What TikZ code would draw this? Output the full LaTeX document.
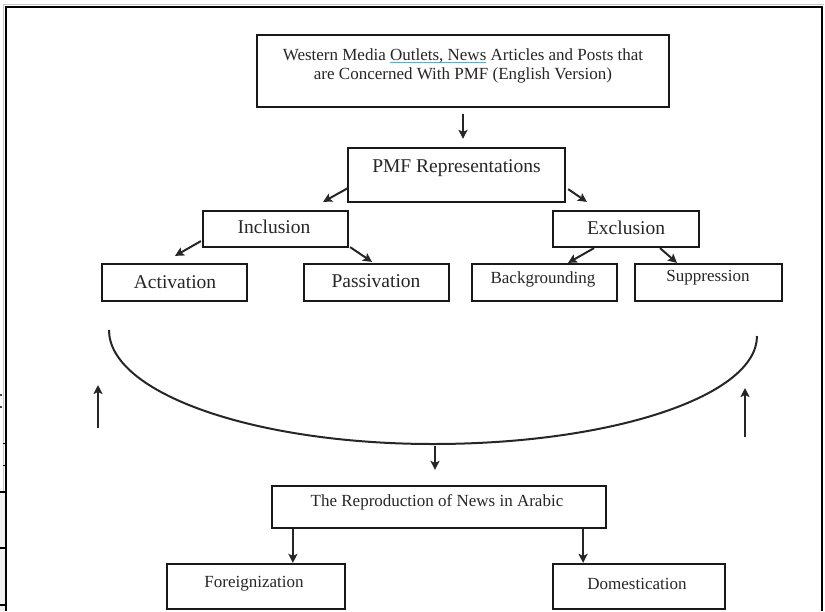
\documentclass[tikz,border=0pt]{standalone}
\usepackage{fontspec}
\setmainfont{Liberation Serif}
\usetikzlibrary{arrows.meta,calc}
\newsavebox\myulbox
\newcommand\spellul[1]{\sbox\myulbox{#1}\rlap{\textcolor{blue!35!cyan!80!white}{\rule[-3pt]{\wd\myulbox}{0.8pt}}}\usebox\myulbox}
\begin{document}
\begin{tikzpicture}[x=1pt,y=-1pt,
  box/.style={draw=black!90, line width=2.2pt, rectangle, inner sep=0pt},
  lbl/.style={inner sep=0pt, font=\fontsize{17}{19}\selectfont, align=center, text=black!85},
  big/.style={font=\fontsize{19.5}{22}\selectfont},
  arr/.style={line width=2pt, black!85, -{Stealth[length=9pt,width=9pt,inset=2pt]}},
  frame/.style={line width=2.2pt},
  plain/.style={line width=2pt, black!85}]
\useasboundingbox (0,0) rectangle (825,611);
% frame
\draw[gray!45, line width=1pt] (3.5,611) -- (3.5,4.5) -- (824,4.5);
\draw[frame] (6,611) -- (6,7) -- (822,7) -- (822,611);
% left page remnants
\fill[gray!12] (0,492) rectangle (5,611);
\fill (1,395) circle (1.2);
\fill (1,407) circle (1.2);
\draw[line width=1pt] (2.5,443) -- (5,443) -- (5,465) -- (2.5,465);
\draw[line width=1.2pt] (0,492) -- (6,492);
\draw[line width=1.2pt] (0,548) -- (6,548);
\draw[line width=1.2pt] (0,605) -- (6,605);
% boxes
\node[box, minimum width=412pt, minimum height=72pt] (top) at (463,71) {};
\node[box, minimum width=217pt, minimum height=54pt] (pmf) at (456.5,175) {};
\node[box, minimum width=145pt, minimum height=36pt] (incl) at (275.5,229) {};
\node[box, minimum width=146pt, minimum height=36pt] (excl) at (626,229) {};
\node[box, minimum width=145pt, minimum height=37pt] (act) at (174.5,282.5) {};
\node[box, minimum width=145pt, minimum height=37pt] (pas) at (376.5,282.5) {};
\node[box, minimum width=145pt, minimum height=37pt] (bg) at (544.5,282.5) {};
\node[box, minimum width=147pt, minimum height=37pt] (sup) at (708.5,282.5) {};
\node[box, minimum width=334pt, minimum height=42pt] (repro) at (439,507) {};
\node[box, minimum width=178pt, minimum height=45pt] (for) at (256,586.5) {};
\node[box, minimum width=172pt, minimum height=45pt] (dom) at (639,586.5) {};
% texts
\node[lbl] (topt) at (463,65.5) {Western Media \spellul{Outlets, News} Articles and Posts that\\are Concerned With PMF (English Version)};
\node[lbl, big] (pmft) at (456.5,168) {PMF Representations};
\node[lbl, big] (inclt) at (274,227) {Inclusion};
\node[lbl, big] (exclt) at (626,228) {Exclusion};
\node[lbl, big] (actt) at (175,282) {Activation};
\node[lbl, big] (past) at (376,281) {Passivation};
\node[lbl] (bgt) at (543,279) {Backgrounding};
\node[lbl] (supt) at (708,278) {Suppression};
\node[lbl] (reprot) at (437,502) {The Reproduction of News in Arabic};
\node[lbl] (fort) at (254,584) {Foreignization};
\node[lbl] (domt) at (637,584) {Domestication};
% arrows
\draw[arr] ($(top.south)+(0,6)$) -- ($(top.south |- pmf.north)+(0,-8)$);
\draw[arr] ($(pmf.south west)+(1,-15)$) -- ($(incl.north east)+(-26,-8)$);
\draw[arr] ($(pmf.south east)+(2,-14)$) -- ($(excl.north west)+(35,-8)$);
\draw[arr] ($(incl.south west)+(-1,-7)$) -- ($(act.north)+(0.5,-7)$);
\draw[arr] ($(incl.south east)+(1,-1)$) -- ($(pas.north)+(-4.5,-1)$);
\draw[arr] ($(excl.south)+(-32,0)$) -- ($(bg.north)+(23.5,0)$);
\draw[arr] ($(excl.south)+(34,0)$) -- ($(sup.north)+(-31.5,0)$);
% curve
\coordinate (cl) at (109,330);
\coordinate (cb) at (433,444);
\coordinate (cr) at (757,336);
\draw[plain] (cl) .. controls (109,393) and (254,444) .. (cb) .. controls (612,444) and (757,396) .. (cr);
\draw[arr] ($(cb)+(2,2)$) -- ($(cb |- repro.north)+(2,-15)$);
\draw[arr] ($(repro.south west)+(22,0)$) coordinate (r1) -- (r1 |- for.north);
\draw[arr] ($(repro.south east)+(-24,0)$) coordinate (r2) -- (r2 |- dom.north);
% side up arrows
\coordinate (ua1) at (98,428);
\coordinate (ua2) at (98,385);
\coordinate (ub1) at (745,437);
\coordinate (ub2) at (745,388);
\draw[arr] (ua1) -- (ua2);
\draw[arr] (ub1) -- (ub2);
\end{tikzpicture}
\end{document}
